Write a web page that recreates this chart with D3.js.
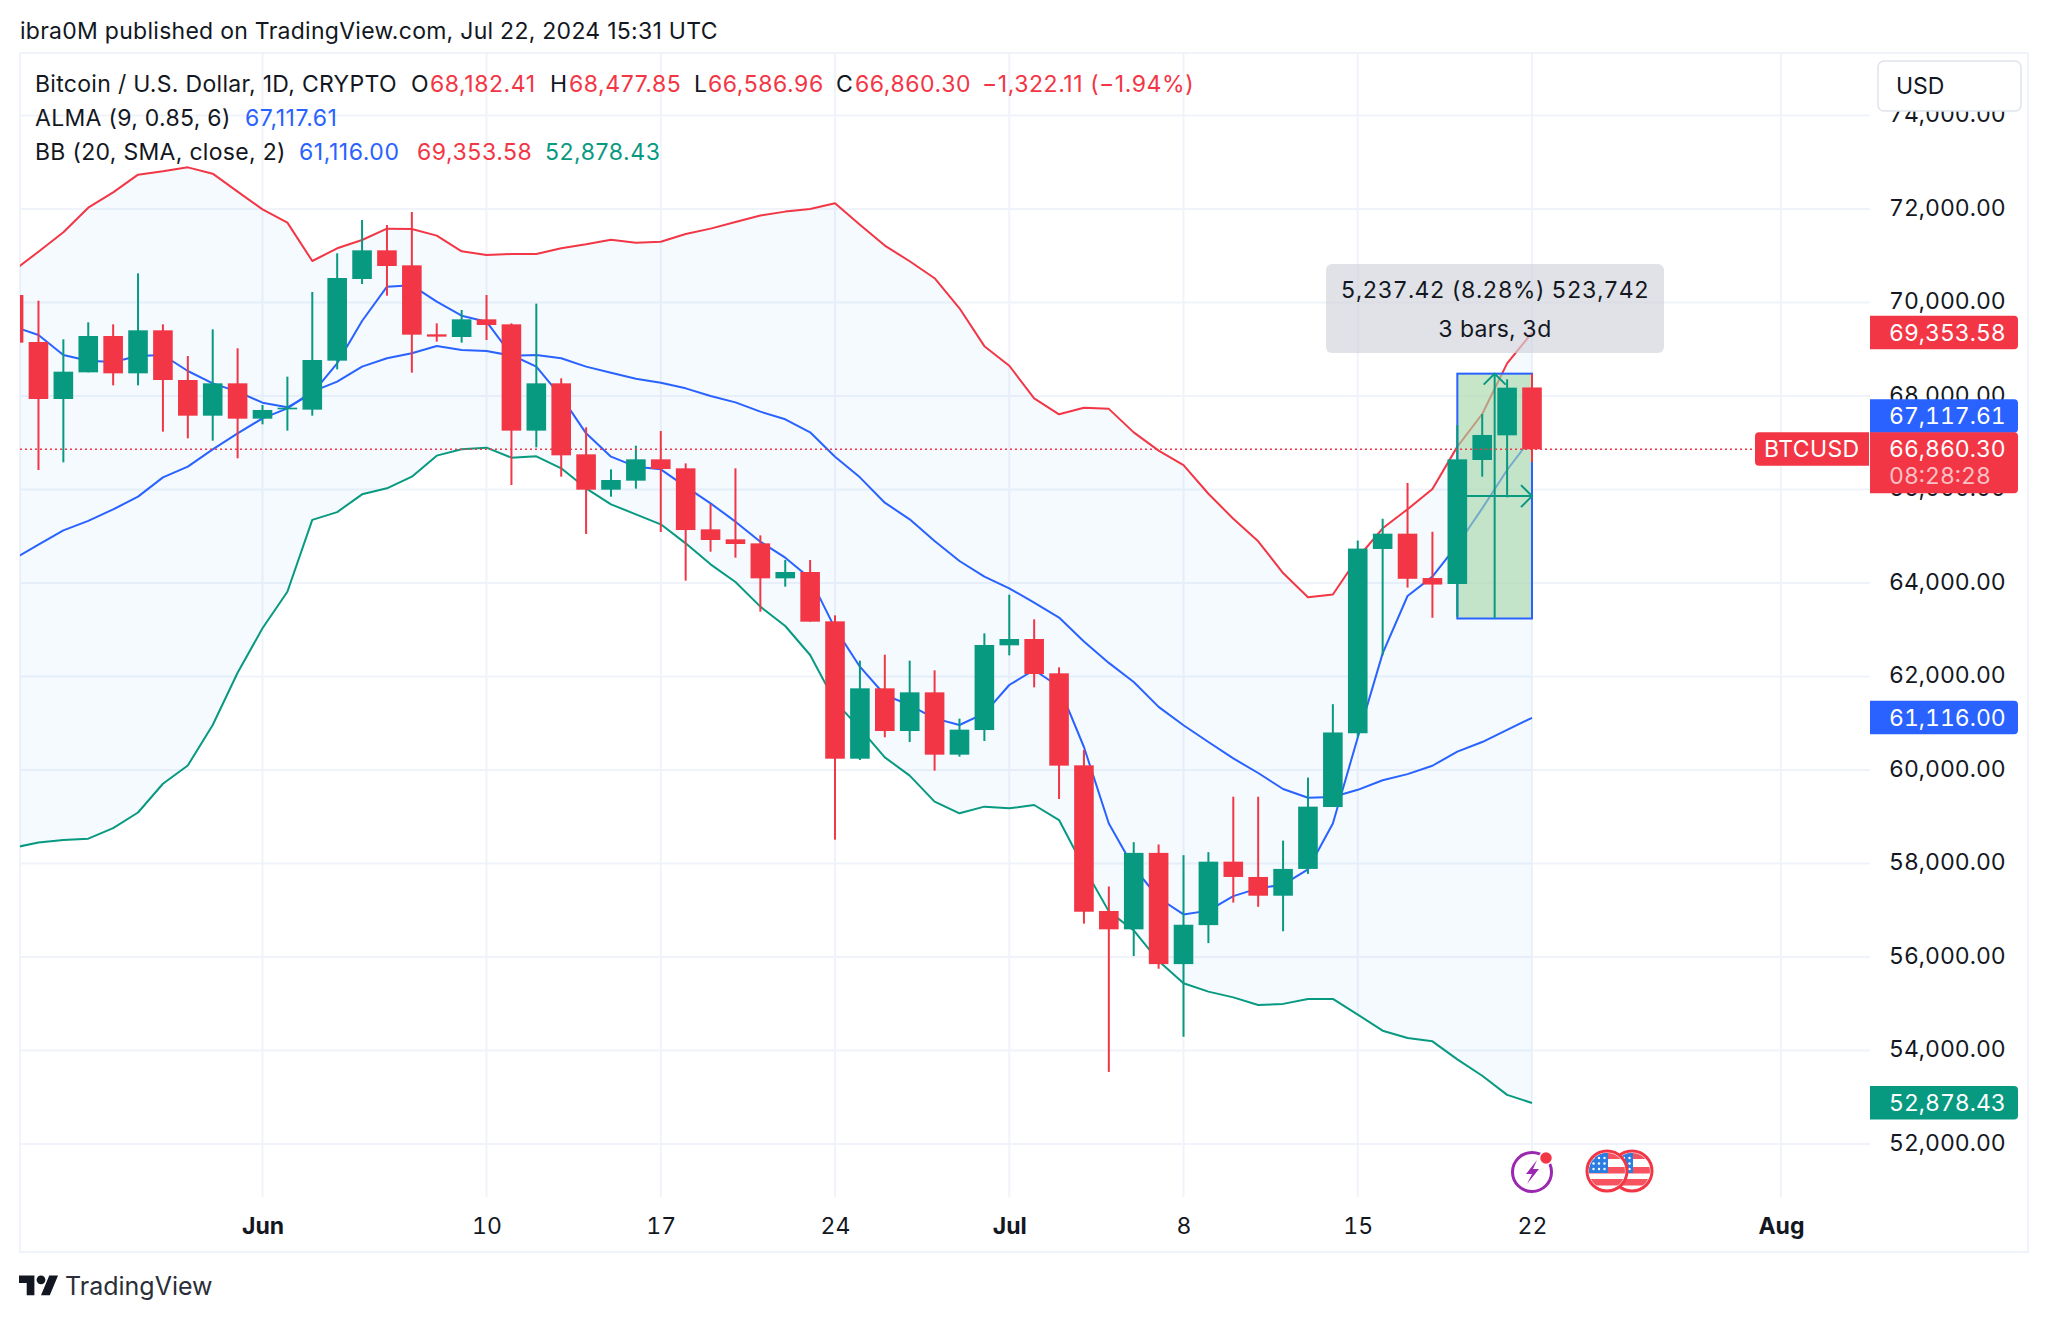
<!DOCTYPE html>
<html>
<head>
<meta charset="utf-8">
<style>
	body{ margin: 0; background: #fff; }
	text{ font-family: Inter, "Noto Sans", sans-serif; fill: #131722; font-variant-numeric: tabular-nums; }
	.axis path, .axis line{ display: none; }
	.axis text{ font-family: Inter, "Noto Sans", sans-serif; font-size: 23px; fill: #131722; }
	.line{ fill: none; stroke-width: 2px; stroke-linejoin: round; }
</style>
</head>
<body>
<script src="https://d3js.org/d3.v7.min.js"></script>
<script>

	var dates = ["2024-05-22","2024-05-23","2024-05-24","2024-05-25","2024-05-26","2024-05-27","2024-05-28","2024-05-29","2024-05-30","2024-05-31",
		"2024-06-01","2024-06-02","2024-06-03","2024-06-04","2024-06-05","2024-06-06","2024-06-07","2024-06-08","2024-06-09","2024-06-10",
		"2024-06-11","2024-06-12","2024-06-13","2024-06-14","2024-06-15","2024-06-16","2024-06-17","2024-06-18","2024-06-19","2024-06-20",
		"2024-06-21","2024-06-22","2024-06-23","2024-06-24","2024-06-25","2024-06-26","2024-06-27","2024-06-28","2024-06-29","2024-06-30",
		"2024-07-01","2024-07-02","2024-07-03","2024-07-04","2024-07-05","2024-07-06","2024-07-07","2024-07-08","2024-07-09","2024-07-10",
		"2024-07-11","2024-07-12","2024-07-13","2024-07-14","2024-07-15","2024-07-16","2024-07-17","2024-07-18","2024-07-19","2024-07-20",
		"2024-07-21","2024-07-22"];

	var opens = [70160,69155,67936,68506,69283,68485,69405,68342,67579,68271,
		67515,67715,67708,68756,70503,71116,70795,69319,69262,69640,
		69533,67259,68271,66752,65996,66189,66645,66453,65148,64934,
		64848,64100,64235,63180,60242,61747,60834,61661,60328,60855,
		62667,62802,62068,60100,56984,56592,58227,55848,56682,58039,
		57712,57311,57884,59208,60786,64728,65055,64106,63979,66631,
		67159,68182.41];

	var highs = [70160,70039,69212,69576,69533,70624,69533,68856,69426,69020,
		67808,68414,70225,71052,71765,71658,71936,69554,69840,70160,
		69554,69975,68378,67330,66431,66937,67251,66559,65690,66453,
		65019,64492,64492,63308,62339,62467,62339,62132,61098,62923,
		63750,63223,62196,60427,57508,58456,58407,58178,58243,59429,
		59429,58489,59838,61408,64908,65374,66140,65096,67380,67615,
		68357,68477.85];

	var lows = [69141,66417,66581,68506,68228,68228,67237,67094,67045,66667,
		67394,67259,67579,68570,70396,70146,68499,69162,69141,69198,
		66096,66902,66274,65048,65846,66018,65091,64050,64670,64542,
		63387,63921,63173,58510,60214,60699,60599,59986,60285,60620,
		62453,61768,59380,56714,53542,56019,55750,54294,56297,57164,
		57074,56551,57777,59208,60696,62455,63902,63256,63280,66275,
		65833,66586.96];

	var closes = [69141,67936,68520,69283,68485,69405,68342,67579,68271,67515,
		67701,67750,68770,70524,71116,70781,69312,69270,69640,69519,
		67259,68271,66731,65996,66203,66645,66438,65133,64920,64834,
		64100,64235,63173,60242,61747,60834,61661,60328,60863,62674,
		62802,62053,60093,56968,56592,58227,55848,56690,58039,57712,
		57311,57884,59216,60803,64736,65055,64090,63967,66645,67166,
		68178,66860.30];

	var alma = [69483,69305,68877,68756,68727,68856,68877,68535,68271,68093,
		67857,67758,68057,68699,69604,70339,70367,70018,69718,69590,
		68877,68628,67986,67201,66702,66488,66431,66060,65704,65312,
		64884,64542,64100,63030,62210,61604,61390,61105,60962,61212,
		61818,62139,61780,60492,58857,57916,57262,56911,56992,57303,
		57467,57548,57875,58857,60696,62495,63722,64136,64813,65597,
		66417,67117.61];

	var bbBasis = [64512,64819,65126,65330,65573,65847,66260,66489,66859,67201,
		67522,67736,68093,68307,68628,68806,68913,69070,68984,68963,
		68863,68877,68806,68628,68499,68371,68285,68164,68000,67864,
		67665,67501,67223,66702,66260,65718,65362,64898,64470,64135,
		63886,63579,63260,62750,62291,61882,61351,60958,60598,60247,
		59936,59593,59405,59421,59576,59781,59912,60091,60394,60598,
		60860,61116.00];

	var bbUpper = [70681,71087,71501,72028,72357,72734,72806,72891,72756,72371,
		71993,71708,70888,71159,71337,71579,71572,71430,71095,71016,
		71037,71037,71159,71244,71344,71280,71301,71465,71580,71720,
		71860,71944,72000,72125,71664,71217,70882,70519,69876,69066,
		68647,67950,67608,67750,67725,67222,66831,66523,65909,65374,
		64891,64213,63697,63755,64540,65170,65576,66011,66917,67615,
		68699,69353.58];

	var bbLower = [58337,58449,58504,58532,58756,59091,59706,60097,60963,62081,
		63031,63813,65350,65517,65897,66025,66275,66724,66859,66895,
		66681,66709,66453,66025,65683,65469,65255,64848,64399,64021,
		63494,63080,62460,61462,60891,60271,59879,59323,59073,59216,
		59180,59251,58930,57916,56976,56567,55913,55439,55259,55136,
		54973,54997,55103,55103,54768,54424,54269,54196,53811,53460,
		53051,52878.43];

	var priceTicks = [52000,54000,56000,58000,60000,62000,64000,66000,68000,70000,72000,74000];
	var timeTicks = ["2024-06-01","2024-06-10","2024-06-17","2024-06-24","2024-07-01","2024-07-08","2024-07-15","2024-07-22","2024-08-01"];
	var timeLabels = ["Jun","10","17","24","Jul","8","15","22","Aug"];

	var rangeHigh = 68477.85, rangeLow = 63240.43;

	var red = "#f23645", green = "#089981", blue = "#2962ff", gridColor = "#f0f3fa";
	var bodyWidth = 19.6;

	var plot = {left: 20, right: 1870, top: 53, bottom: 1197};
	var parse = d3.utcParse("%Y-%m-%d");

	var x = d3.scaleUtc()
		.domain([parse("2024-06-01"), parse("2024-07-22")])
		.range([262.5, 1532]);

	var y = d3.scaleLinear()
		.domain([52000, 72000])
		.range([1144, 209]);

	var svg = d3.select("body").append("svg")
		.attr("width", 2048)
		.attr("height", 1321)
		.style("display", "block");

	svg.append("defs").append("clipPath").attr("id", "plotClip")
		.append("rect")
		.attr("x", plot.left).attr("y", plot.top)
		.attr("width", plot.right - plot.left).attr("height", plot.bottom - plot.top);

	// frame
	svg.append("rect")
		.attr("x", 20).attr("y", 53).attr("width", 2008).attr("height", 1199)
		.attr("fill", "#fff").attr("stroke", gridColor).attr("stroke-width", 2);

	// grid
	svg.append("g").selectAll("line").data(priceTicks).enter().append("line")
		.attr("x1", plot.left).attr("x2", plot.right)
		.attr("y1", function(d){ return y(d); }).attr("y2", function(d){ return y(d); })
		.attr("stroke", gridColor).attr("stroke-width", 2);

	svg.append("g").selectAll("line").data(timeTicks).enter().append("line")
		.attr("x1", function(d){ return x(parse(d)); }).attr("x2", function(d){ return x(parse(d)); })
		.attr("y1", plot.top).attr("y2", plot.bottom)
		.attr("stroke", gridColor).attr("stroke-width", 2);

	var chart = svg.append("g").attr("clip-path", "url(#plotClip)");

	// bollinger fill and lines
	var index = d3.range(dates.length);
	var dayX = function(i){ return x(parse(dates[i])); };

	chart.append("path")
		.datum(index)
		.attr("fill", "#2196f3").attr("fill-opacity", 0.05)
		.attr("d", d3.area().x(dayX)
			.y0(function(i){ return y(bbLower[i]); })
			.y1(function(i){ return y(bbUpper[i]); }));

	function drawLine(values, color){
		chart.append("path")
			.datum(index)
			.attr("class", "line")
			.attr("stroke", color)
			.attr("d", d3.line().x(dayX).y(function(i){ return y(values[i]); }));
	}
	drawLine(bbBasis, blue);
	drawLine(bbUpper, red);
	drawLine(bbLower, green);
	drawLine(alma, blue);

	// price range drawing
	var rangeX0 = x(parse("2024-07-19")), rangeX1 = x(parse("2024-07-22"));
	var rangeMidX = (rangeX0 + rangeX1) / 2, rangeMidY = y((rangeHigh + rangeLow) / 2);

	chart.append("rect")
		.attr("x", rangeX0).attr("y", y(rangeHigh))
		.attr("width", rangeX1 - rangeX0).attr("height", y(rangeLow) - y(rangeHigh))
		.attr("fill", "#a5d6a7").attr("fill-opacity", 0.62)
		.attr("stroke", blue).attr("stroke-width", 2);

	var arrows = chart.append("g").attr("fill", "none").attr("stroke", green).attr("stroke-width", 2);
	arrows.append("path").attr("d", d3.line()([[rangeMidX, y(rangeLow)], [rangeMidX, y(rangeHigh)]]));
	arrows.append("path").attr("d", d3.line()([[rangeMidX - 11, y(rangeHigh) + 11], [rangeMidX, y(rangeHigh)], [rangeMidX + 11, y(rangeHigh) + 11]]));
	arrows.append("path").attr("d", d3.line()([[rangeX0, rangeMidY], [rangeX1, rangeMidY]]));
	arrows.append("path").attr("d", d3.line()([[rangeX1 - 11, rangeMidY - 11], [rangeX1, rangeMidY], [rangeX1 - 11, rangeMidY + 11]]));

	// candles
	var candleColor = function(i){ return closes[i] >= opens[i] ? green : red; };
	var candles = chart.append("g").selectAll("g").data(index).enter().append("g");

	candles.append("line")
		.attr("x1", dayX).attr("x2", dayX)
		.attr("y1", function(i){ return y(highs[i]); })
		.attr("y2", function(i){ return y(lows[i]); })
		.attr("stroke", candleColor).attr("stroke-width", 2);

	candles.append("rect")
		.attr("x", function(i){ return dayX(i) - bodyWidth / 2; })
		.attr("width", bodyWidth)
		.attr("y", function(i){ return y(Math.max(opens[i], closes[i])); })
		.attr("height", function(i){ return Math.abs(y(opens[i]) - y(closes[i])); })
		.attr("fill", candleColor);

	// last price line
	var lastClose = closes[closes.length - 1];
	svg.append("line")
		.attr("x1", plot.left).attr("x2", 1755)
		.attr("y1", y(lastClose)).attr("y2", y(lastClose))
		.attr("stroke", red).attr("stroke-width", 1.5).attr("stroke-dasharray", "2 3");

	// measure tooltip
	svg.append("rect")
		.attr("x", 1326).attr("y", 264).attr("width", 338).attr("height", 89).attr("rx", 6)
		.attr("fill", "#d1d4dc").attr("fill-opacity", 0.68);
	svg.append("text").attr("x", 1495).attr("y", 298).attr("text-anchor", "middle")
		.attr("font-size", 23).style("letter-spacing", "0.3px").text("5,237.42 (8.28%) 523,742");
	svg.append("text").attr("x", 1495).attr("y", 337).attr("text-anchor", "middle")
		.attr("font-size", 23).style("letter-spacing", "0.3px").text("3 bars, 3d");

	// axes
	var priceAxis = d3.axisRight(y).tickValues(priceTicks).tickSize(0).tickPadding(0).tickFormat(d3.format(",.2f"));
	svg.append("g").attr("class", "axis")
		.attr("transform", "translate(1889,-1)")
		.call(priceAxis);

	var timeAxis = d3.axisBottom(x)
		.tickValues(timeTicks.map(parse))
		.tickSize(0)
		.tickFormat(function(d, i){ return timeLabels[i]; });
	svg.append("g").attr("class", "axis")
		.attr("transform", "translate(0,1215)")
		.call(timeAxis)
		.selectAll("text")
		.style("font-weight", function(d, i){ return isNaN(+timeLabels[i]) ? 700 : 400; });

	// price labels on the axis
	function priceLabel(top, height, color, label){
		svg.append("path")
			.attr("d", "M1870," + top + "h144a4,4 0 0 1 4,4v" + (height - 8) + "a4,4 0 0 1 -4,4h-144z")
			.attr("fill", color);
		svg.append("text").attr("x", 1889).attr("y", top + 25).attr("font-size", 23)
			.style("fill", "#fff").text(label);
	}
	var fmt = d3.format(",.2f");
	priceLabel(y(bbUpper[61]) - 17, 33.5, red, fmt(bbUpper[61]));
	priceLabel(y(lastClose) - 50, 33.5, blue, fmt(alma[61]));
	priceLabel(y(lastClose) - 17, 61, red, fmt(lastClose));
	priceLabel(y(bbBasis[61]) - 17, 33.5, blue, fmt(bbBasis[61]));
	priceLabel(y(bbLower[61]) - 17, 33.5, green, fmt(bbLower[61]));
	svg.append("text").attr("x", 1889).attr("y", y(lastClose) + 35).attr("font-size", 23)
		.style("fill", "#fff").style("fill-opacity", 0.7).text("08:28:28");

	svg.append("path")
		.attr("d", "M1869," + (y(lastClose) - 17) + "v33.5h-110a4,4 0 0 1 -4,-4v-25.5a4,4 0 0 1 4,-4z")
		.attr("fill", red);
	svg.append("text").attr("x", 1764).attr("y", y(lastClose) + 8).attr("font-size", 23)
		.style("letter-spacing", "0.4px").style("fill", "#fff").text("BTCUSD");

	// currency button
	svg.append("rect")
		.attr("x", 1878).attr("y", 61).attr("width", 143).attr("height", 50).attr("rx", 6)
		.attr("fill", "#fff").attr("stroke", "#e0e3eb").attr("stroke-width", 1.5);
	svg.append("text").attr("x", 1896).attr("y", 94).attr("font-size", 23).text("USD");

	// header and legend
	svg.append("text").attr("x", 20).attr("y", 39).attr("font-size", 23)
		.style("font-variant-numeric", "normal")
		.style("letter-spacing", "0.27px")
		.text("ibra0M published on TradingView.com, Jul 22, 2024 15:31 UTC");

	var legendRows = [
		[[35, 92, "Bitcoin / U.S. Dollar, 1D, CRYPTO", "#131722"], [411, 92, "O", "#131722"], [430, 92, "68,182.41", red],
		 [550, 92, "H", "#131722"], [569, 92, "68,477.85", red], [694, 92, "L", "#131722"], [708, 92, "66,586.96", red],
		 [836, 92, "C", "#131722"], [855, 92, "66,860.30", red], [982, 92, "\u22121,322.11 (\u22121.94%)", red]],
		[[35, 126, "ALMA (9, 0.85, 6)", "#131722"], [245, 126, "67,117.61", blue]],
		[[35, 160, "BB (20, SMA, close, 2)", "#131722"], [299, 160, "61,116.00", blue], [417, 160, "69,353.58", red], [545, 160, "52,878.43", green]]
	];
	legendRows.forEach(function(row){
		row.forEach(function(t){
			svg.append("text").attr("x", t[0]).attr("y", t[1]).attr("font-size", 23)
				.style("font-variant-numeric", "normal")
				.style("letter-spacing", t[3] === "#131722" ? "0.3px" : "0.55px")
				.style("fill", t[3]).text(t[2]);
		});
	});

	// event icons
	var icons = svg.append("g");
	icons.append("circle").attr("cx", 1532).attr("cy", 1172).attr("r", 19.5)
		.attr("fill", "#fff").attr("stroke", "#9c27b0").attr("stroke-width", 3);
	icons.append("path")
		.attr("d", "M1537,1160l-11,14h6l-5,10l12,-15h-6z")
		.attr("fill", "#9c27b0");
	icons.append("circle").attr("cx", 1546).attr("cy", 1158).attr("r", 6.5)
		.attr("fill", red).attr("stroke", "#fff").attr("stroke-width", 1.5);

	[1632, 1607].forEach(function(cx, n){
		var id = "flagClip" + n;
		svg.select("defs").append("clipPath").attr("id", id)
			.append("circle").attr("cx", cx).attr("cy", 1171).attr("r", 18);
		icons.append("circle").attr("cx", cx).attr("cy", 1171).attr("r", 20)
			.attr("fill", "#fff").attr("stroke", red).attr("stroke-width", 3);
		var flag = icons.append("g").attr("clip-path", "url(#" + id + ")");
		flag.append("rect").attr("x", cx - 18).attr("y", 1153).attr("width", 36).attr("height", 36).attr("fill", "#fff");
		[1167, 1179].forEach(function(sy){
			flag.append("rect").attr("x", cx - 18).attr("y", sy).attr("width", 36).attr("height", 6.5).attr("fill", "#f7525f");
		});
		flag.append("rect").attr("x", cx - 18).attr("y", 1153).attr("width", 36).attr("height", 6).attr("fill", "#f7525f");
		flag.append("rect").attr("x", cx - 18).attr("y", 1153).attr("width", 19).attr("height", 20).attr("fill", "#2a7de1");
		d3.range(3).forEach(function(r){
			d3.range(3).forEach(function(c){
				flag.append("circle").attr("cx", cx - 13.5 + c * 5.5).attr("cy", 1158 + r * 5.5).attr("r", 1.2).attr("fill", "#fff");
			});
		});
	});

	// footer logo
	svg.append("g").attr("transform", "translate(19,1271) scale(1.1)")
		.call(function(g){
			g.append("path").attr("d", "M14 22H7V11H0V4h14v18zM28 22h-8l7.5-18h8L28 22z").style("fill", "#131722");
			g.append("circle").attr("cx", 20).attr("cy", 8).attr("r", 4).style("fill", "#131722");
		});
	svg.append("text").attr("x", 65).attr("y", 1295).attr("font-size", 25).style("fill", "#2a2e39").text("TradingView");

</script>
</body>
</html>
